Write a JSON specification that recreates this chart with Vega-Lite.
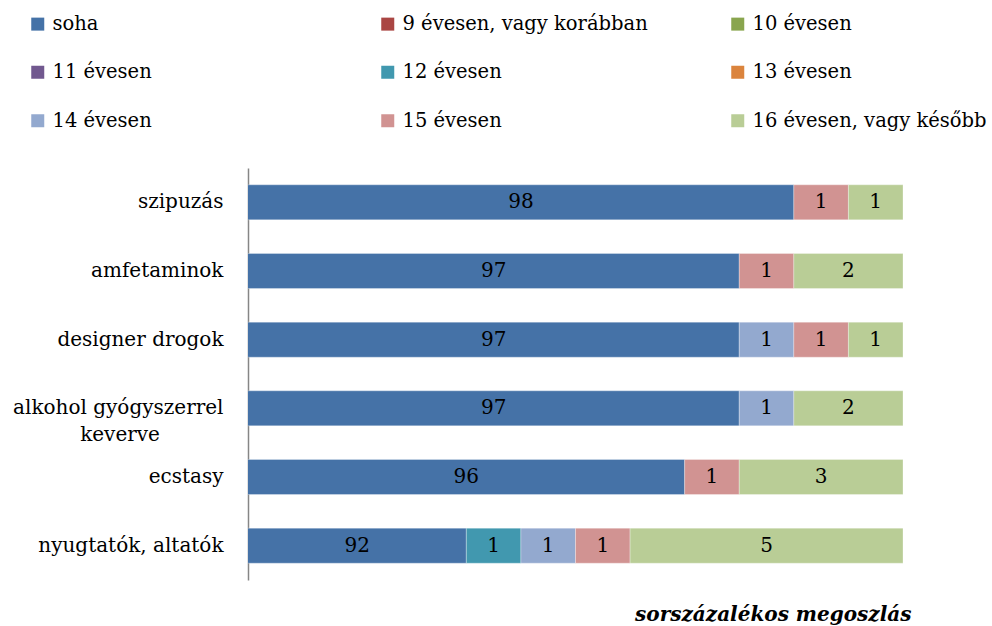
{
  "$schema": "https://vega.github.io/schema/vega-lite/v6.json",
  "autosize": "none",
  "width": 655,
  "height": 412,
  "padding": {"left": 248, "top": 168, "right": 89, "bottom": 46},
  "background": "white",
  "config": {
    "view": {"stroke": null},
    "font": "DejaVu Serif"
  },
  "data": {
    "values": [
      {"drug": "szipuzás", "cat": "soha", "value": 98},
      {"drug": "szipuzás", "cat": "15 évesen", "value": 1},
      {"drug": "szipuzás", "cat": "16 évesen, vagy később", "value": 1},
      {"drug": "amfetaminok", "cat": "soha", "value": 97},
      {"drug": "amfetaminok", "cat": "15 évesen", "value": 1},
      {"drug": "amfetaminok", "cat": "16 évesen, vagy később", "value": 2},
      {"drug": "designer drogok", "cat": "soha", "value": 97},
      {"drug": "designer drogok", "cat": "14 évesen", "value": 1},
      {"drug": "designer drogok", "cat": "15 évesen", "value": 1},
      {"drug": "designer drogok", "cat": "16 évesen, vagy később", "value": 1},
      {"drug": "alkohol gyógyszerrel keverve", "cat": "soha", "value": 97},
      {"drug": "alkohol gyógyszerrel keverve", "cat": "14 évesen", "value": 1},
      {"drug": "alkohol gyógyszerrel keverve", "cat": "16 évesen, vagy később", "value": 2},
      {"drug": "ecstasy", "cat": "soha", "value": 96},
      {"drug": "ecstasy", "cat": "15 évesen", "value": 1},
      {"drug": "ecstasy", "cat": "16 évesen, vagy később", "value": 3},
      {"drug": "nyugtatók, altatók", "cat": "soha", "value": 92},
      {"drug": "nyugtatók, altatók", "cat": "12 évesen", "value": 1},
      {"drug": "nyugtatók, altatók", "cat": "14 évesen", "value": 1},
      {"drug": "nyugtatók, altatók", "cat": "15 évesen", "value": 1},
      {"drug": "nyugtatók, altatók", "cat": "16 évesen, vagy később", "value": 5}
    ]
  },
  "transform": [
    {"calculate": "indexof(['soha','9 évesen, vagy korábban','10 évesen','11 évesen','12 évesen','13 évesen','14 évesen','15 évesen','16 évesen, vagy később'], datum.cat)", "as": "ord"},
    {"stack": "value", "groupby": ["drug"], "sort": [{"field": "ord", "order": "ascending"}], "as": ["x0", "x1"]},
    {"calculate": "(max(datum.x0, 88) + datum.x1) / 2", "as": "mid"}
  ],
  "encoding": {
    "y": {
      "field": "drug",
      "type": "nominal",
      "sort": ["szipuzás", "amfetaminok", "designer drogok", "alkohol gyógyszerrel keverve", "ecstasy", "nyugtatók, altatók"],
      "scale": {"paddingInner": 0.49, "paddingOuter": 0.245},
      "axis": {
        "title": null,
        "domainColor": "#868686",
        "domainWidth": 1.5,
        "ticks": false,
        "labelFont": "DejaVu Serif",
        "labelFontSize": 20,
        "labelColor": "#000000",
        "labelPadding": 25,
        "labelLimit": 400,
        "labelLineHeight": 27,
        "labelExpr": "datum.value == 'alkohol gyógyszerrel keverve' ? ['alkohol gyógyszerrel', 'keverve\u00a0\u00a0\u00a0\u00a0\u00a0\u00a0\u00a0\u00a0\u00a0\u00a0\u200b'] : datum.value"
      }
    }
  },
  "layer": [
    {
      "mark": {"type": "bar", "clip": true, "stroke": "#ffffff", "strokeWidth": 0.5, "strokeOpacity": 0.6},
      "encoding": {
        "x": {
          "field": "x0",
          "type": "quantitative",
          "scale": {"domain": [88, 100], "nice": false, "zero": false},
          "axis": {
            "domain": false,
            "ticks": false,
            "labels": false,
            "grid": false,
            "title": "sorszázalékos megoszlás",
            "titleFont": "DejaVu Serif",
            "titleFontSize": 20,
            "titleFontStyle": "italic",
            "titleFontWeight": "bold",
            "titleColor": "#000000",
            "titleAnchor": "end",
            "titleAlign": "right",
            "titleBaseline": "alphabetic",
            "titleX": 663,
            "titleY": 40
          }
        },
        "x2": {"field": "x1"},
        "color": {
          "field": "cat",
          "type": "nominal",
          "scale": {
            "domain": ["soha", "9 évesen, vagy korábban", "10 évesen", "11 évesen", "12 évesen", "13 évesen", "14 évesen", "15 évesen", "16 évesen, vagy később"],
            "range": ["#4572A7", "#AA4643", "#89A54E", "#71588F", "#4198AF", "#DB843D", "#93A9CF", "#D19392", "#B9CD96"]
          },
          "legend": {
            "title": null,
            "orient": "none",
            "legendX": -220,
            "legendY": -154,
            "direction": "horizontal",
            "columns": 3,
            "gridAlign": "all",
            "columnPadding": 80,
            "rowPadding": 27.5,
            "symbolType": "square",
            "symbolSize": 169,
            "symbolStrokeWidth": 0,
            "symbolOpacity": 1,
            "labelFont": "DejaVu Serif",
            "labelFontSize": 19.5,
            "labelColor": "#000000",
            "labelOffset": 5,
            "labelLimit": 400,
            "padding": 0
          }
        },
        "order": {"field": "ord"}
      }
    },
    {
      "mark": {"type": "text", "font": "DejaVu Serif", "fontSize": 20, "color": "#000000", "baseline": "middle", "align": "center"},
      "encoding": {
        "x": {"field": "mid", "type": "quantitative"},
        "text": {"field": "value", "type": "quantitative"}
      }
    }
  ]
}
